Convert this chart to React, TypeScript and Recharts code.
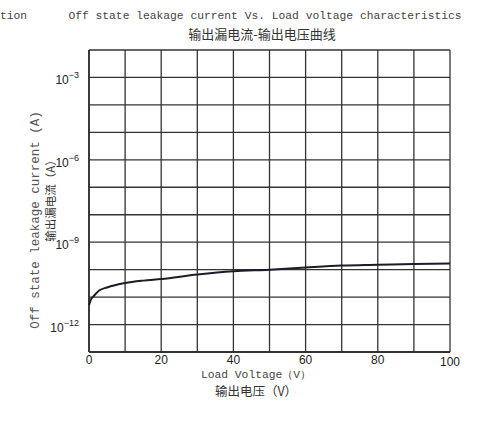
import React from 'react';
import { LineChart, CartesianGrid, XAxis, YAxis, Line } from 'recharts';

const voltage = [0, 0.5, 1.4, 2.8, 5, 10, 15, 20, 30, 40, 50, 60, 70, 80, 90, 100];
const leakage = [
  5.0e-12, 8.1e-12, 1.12e-11, 1.74e-11, 2.24e-11, 3.24e-11, 3.98e-11, 4.57e-11,
  6.6e-11, 8.7e-11, 1.0e-10, 1.2e-10, 1.41e-10, 1.51e-10, 1.62e-10, 1.66e-10,
];
const xTicks = [0, 10, 20, 30, 40, 50, 60, 70, 80, 90, 100];
const xLabels = [0, 20, 40, 60, 80, 100];
const yTicks = [1e-13, 1e-12, 1e-11, 1e-10, 1e-9, 1e-8, 1e-7, 1e-6, 1e-5, 1e-4, 1e-3, 1e-2];
const yLabels: Record<string, string> = { '-3': '−3', '-6': '−6', '-9': '−9', '-12': '−12' };

const data = voltage.map((v, i) => ({ v, current: leakage[i] }));

const mono = '"Liberation Mono", "DejaVu Sans Mono", monospace';
const cjk = '"Noto Sans CJK SC", sans-serif';
const sans = '"Liberation Sans", Arial, sans-serif';

const XTick = (props: any) => {
  const { x, y, payload } = props;
  if (!xLabels.includes(payload.value)) return null;
  const dy = payload.value === 100 ? 6 : 4;
  return (
    <text x={x} y={y + dy} textAnchor="middle" fontSize={12} fontFamily={sans} fill="#222">
      {payload.value}
    </text>
  );
};

const YTick = (props: any) => {
  const { x, y, payload } = props;
  const exp = String(Math.round(Math.log10(payload.value)));
  const sup = yLabels[exp];
  if (!sup) return null;
  return (
    <text x={x - 2} y={y + 7} textAnchor="end" fontSize={12} fontFamily={sans} fill="#222">
      10
      <tspan dy={-6} fontSize={9}>{sup}</tspan>
    </text>
  );
};

const abs = (style: React.CSSProperties): React.CSSProperties => ({
  position: 'absolute',
  whiteSpace: 'nowrap',
  lineHeight: 1,
  ...style,
});

export default function App() {
  return (
    <div style={{ position: 'absolute', left: 0, top: 0, width: 479, height: 428, background: '#fff' }}>
      <LineChart
        width={479}
        height={428}
        data={data}
        margin={{ top: 50, right: 29, left: 49, bottom: 56 }}
      >
        <CartesianGrid stroke="#333" strokeWidth={1.3} />
        <XAxis
          dataKey="v"
          type="number"
          domain={[0, 100]}
          ticks={xTicks}
          height={20}
          tickLine={false}
          axisLine={{ stroke: '#222', strokeWidth: 1.4 }}
          tick={<XTick />}
          interval={0}
        />
        <YAxis
          type="number"
          scale="log"
          domain={[1e-13, 1e-2]}
          ticks={yTicks}
          width={40}
          tickLine={false}
          axisLine={{ stroke: '#222', strokeWidth: 1.4 }}
          tick={<YTick />}
          interval={0}
          allowDataOverflow
        />
        <Line
          type="monotone"
          dataKey="current"
          stroke="#1c1c28"
          strokeWidth={2}
          dot={false}
          isAnimationActive={false}
        />
      </LineChart>

      <div style={abs({ left: 0, top: 11, fontFamily: mono, fontSize: 11.3, color: '#444' })}>tion</div>
      <div style={abs({ left: 265, top: 11, transform: 'translateX(-50%)', fontFamily: mono, fontSize: 11.3, color: '#444' })}>
        Off state leakage current Vs. Load voltage characteristics
      </div>
      <div style={abs({ left: 262, top: 27, transform: 'translateX(-50%)', fontFamily: cjk, fontSize: 13, color: '#333' })}>
        输出漏电流-输出电压曲线
      </div>

      <div style={abs({ left: 36, top: 220, transform: 'translate(-50%, -50%) rotate(-90deg)', fontFamily: mono, fontSize: 12.5, color: '#555' })}>
        Off state leakage current (A)
      </div>
      <div style={abs({ left: 51, top: 198, transform: 'translate(-50%, -50%) rotate(-90deg)', fontFamily: cjk, fontSize: 11.5, color: '#333' })}>
        输出漏电流（A）
      </div>

      <div style={abs({ left: 256, top: 370, transform: 'translateX(-50%)', fontFamily: mono, fontSize: 11.3, color: '#444' })}>
        Load Voltage（V）
      </div>
      <div style={abs({ left: 256, top: 385, transform: 'translateX(-50%)', fontFamily: cjk, fontSize: 12.5, color: '#333' })}>
        输出电压（V）
      </div>
    </div>
  );
}
